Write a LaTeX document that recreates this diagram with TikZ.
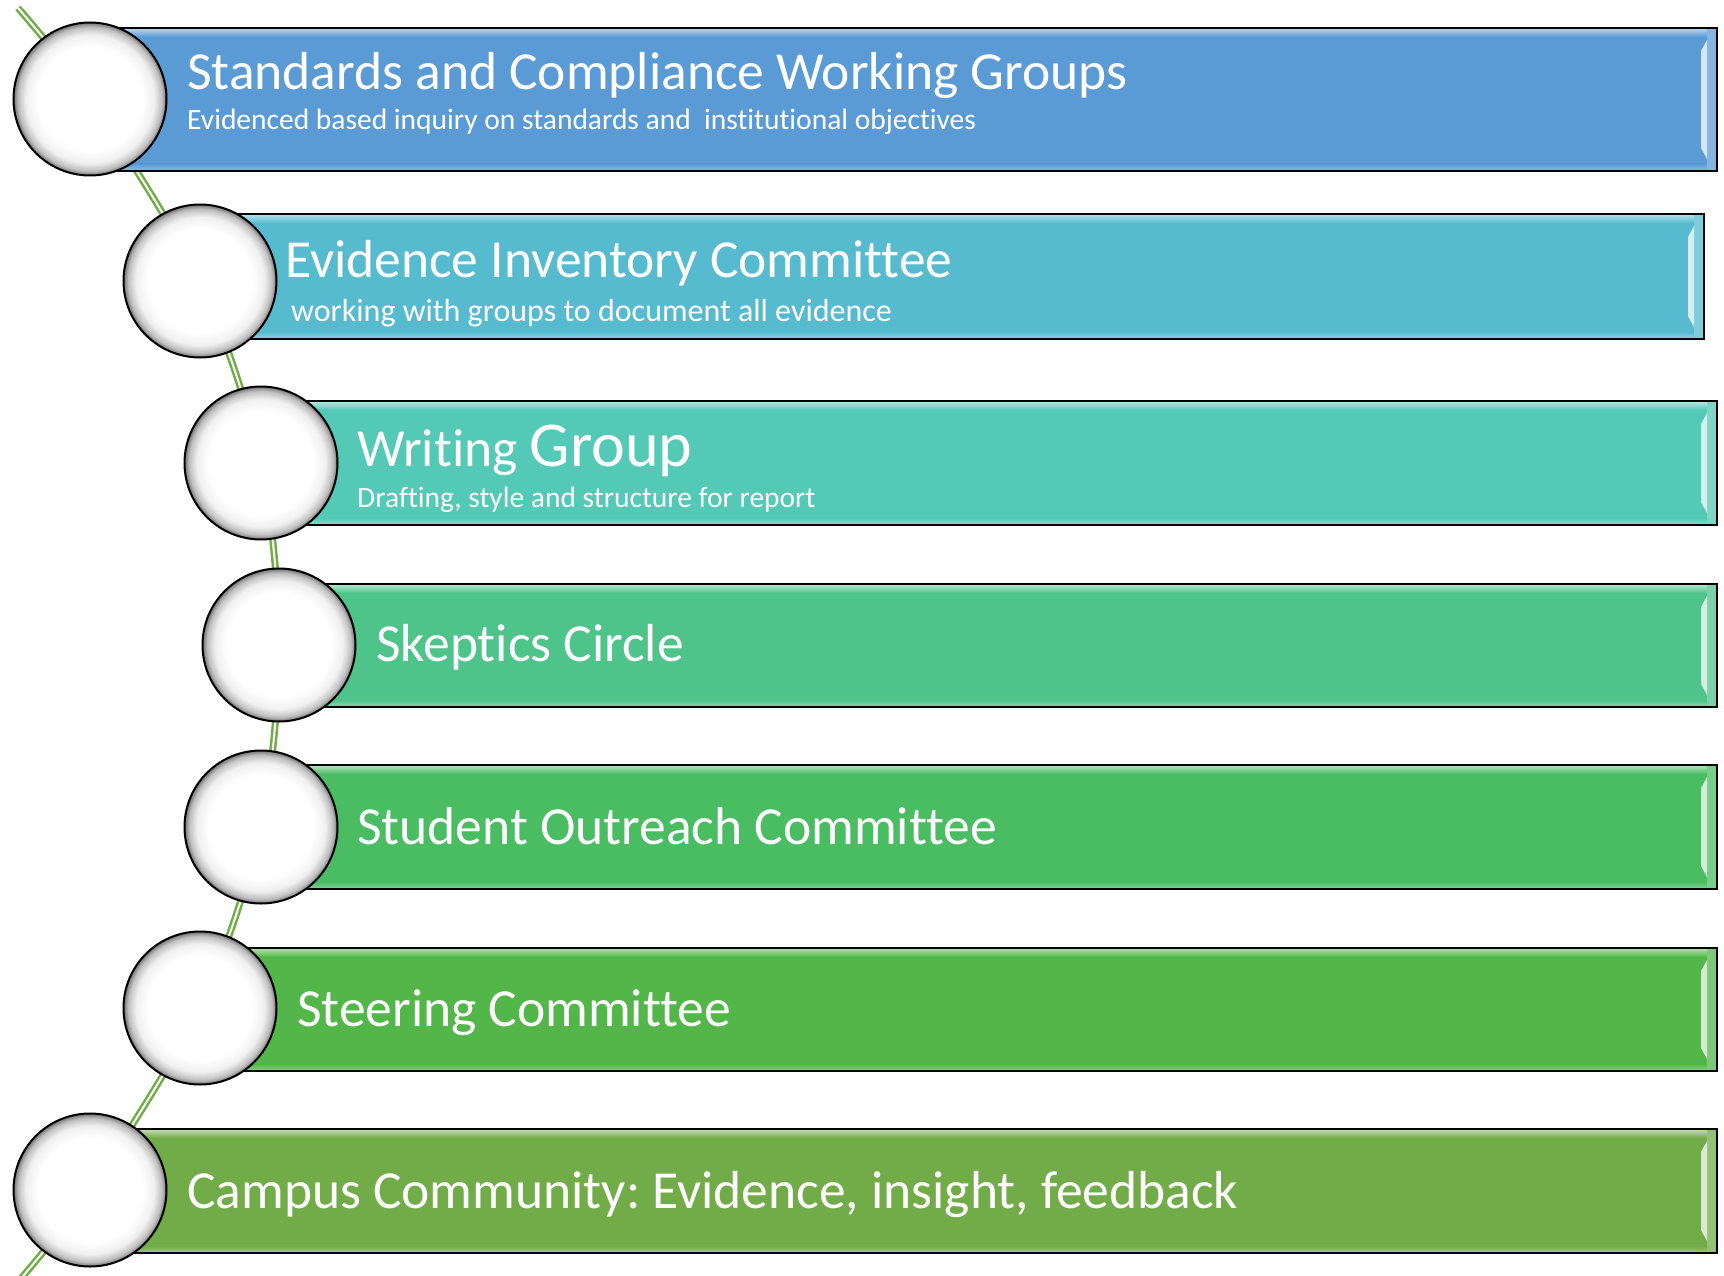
\documentclass[tikz,border=0pt]{standalone}
\usepackage{fontspec}
\setmainfont[Ligatures={NoCommon}]{Carlito}
\definecolor{cA}{HTML}{5B9BD5}
\definecolor{cB}{HTML}{57BBCF}
\definecolor{cC}{HTML}{53C9B6}
\definecolor{cD}{HTML}{4EC48B}
\definecolor{cE}{HTML}{4ABC62}
\definecolor{cF}{HTML}{52B648}
\definecolor{cG}{HTML}{72AC48}
\definecolor{vine}{HTML}{70AD47}
\pgfdeclareradialshading{ballshade}{\pgfpointorigin}{color(0bp)=(white); color(17bp)=(white); color(21bp)=(black!6); color(23.5bp)=(black!25); color(25bp)=(black!55); color(50bp)=(black!55)}
\newcommand\mybar[5]{% #1 top, #2 bottom, #3 right, #4 colour, #5 left
  \fill[#4] (#5,#1) rectangle (#3,#2);
  \shade[top color=#4!40!white, bottom color=#4] (#5,#1) rectangle (#3,#1+9);
  \shade[top color=#4, bottom color=#4!65!white] (#5,#2-7) rectangle (#3,#2);
  \fill[#4!75!white] (#3-10,#1) rectangle (#3,#2);
  \fill[#4!25!white] (#3-10,#1+12) -- (#3-16,#1+23) -- (#3-16,#2-23) -- (#3-10,#2-12) -- cycle;
  \draw[line width=2] (#5,#1) rectangle (#3,#2);
}
\tikzset{
  ball/.style={circle, minimum size=153, inner sep=0, draw=black, line width=2, shading=ballshade},
  ttl/.style={anchor=base west, text=white, font=\fontsize{53.5}{60}\selectfont, inner sep=0},
  subttl/.style={anchor=base west, text=white, font=\fontsize{29.5}{34}\selectfont, inner sep=0},
}
\begin{document}
\frenchspacing
\begin{tikzpicture}[x=1pt,y=-1pt]
\useasboundingbox (0,0) rectangle (1724,1276);
\coordinate (s0) at (18,8);
\coordinate (p1) at (90,99);
\coordinate (p2) at (200,281);
\coordinate (p3) at (261,463);
\coordinate (p4) at (279,645);
\coordinate (p5) at (261,827);
\coordinate (p6) at (200,1008);
\coordinate (p7) at (90,1190);
\coordinate (s8) at (18,1282);
% vine
\draw[vine, line width=7] plot[smooth] coordinates {(s0) (p1) (p2) (p3) (p4) (p5) (p6) (p7) (s8)};
\draw[white, line width=2] plot[smooth] coordinates {(s0) (p1) (p2) (p3) (p4) (p5) (p6) (p7) (s8)};
% bars
\mybar{28}{171}{1717}{cA}{90}
\mybar{214}{339}{1704}{cB}{200}
\mybar{401}{525}{1717}{cC}{261}
\mybar{584}{707}{1717}{cD}{279}
\mybar{765}{889}{1717}{cE}{261}
\mybar{948}{1071}{1717}{cF}{200}
\mybar{1129}{1253}{1717}{cG}{90}
% balls
\node[ball] (b1) at (p1) {};
\node[ball] (b2) at (p2) {};
\node[ball] (b3) at (p3) {};
\node[ball] (b4) at (p4) {};
\node[ball] (b5) at (p5) {};
\node[ball] (b6) at (p6) {};
\node[ball] (b7) at (p7) {};
% texts
\node[ttl] (t1) at (187,90) {Standards and Compliance Working Groups};
\node[subttl] (u1) at (187,130) {Evidenced based inquiry on standards and \ institutional objectives};
\node[ttl] (t2) at (285,277) {Evidence Inventory Committee};
\node[subttl, font=\fontsize{32}{36}\selectfont] (u2) at (291,321) {working with groups to document all evidence};
\node[ttl] (t3) at (357,466) {Writing {\fontsize{64}{70}\selectfont Group}};
\node[subttl] (u3) at (357,507) {Drafting, style and structure for report};
\node[ttl] (t4) at (376,661) {Skeptics Circle};
\node[ttl] (t5) at (357,844) {Student Outreach Committee};
\node[ttl] (t6) at (297,1026) {Steering Committee};
\node[ttl] (t7) at (187,1208) {Campus Community: Evidence, insight, feedback};
\end{tikzpicture}
\end{document}
